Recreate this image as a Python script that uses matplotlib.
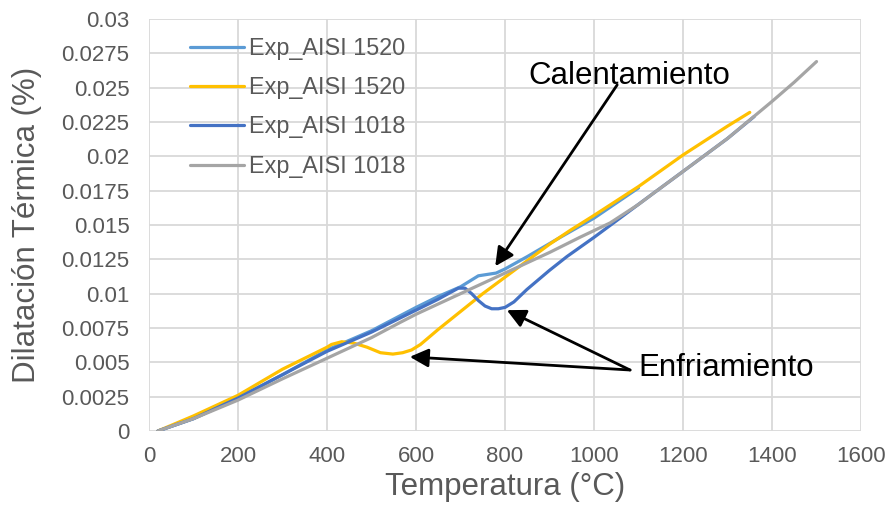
import numpy as np
import matplotlib.pyplot as plt
from matplotlib.ticker import MultipleLocator, FuncFormatter

plt.rcParams['font.family'] = ['Liberation Sans', 'DejaVu Sans']

# Exp_AISI 1520 - calentamiento (azul claro)
temp_1520_cal = [20, 100, 200, 300, 400, 500, 600, 650, 700, 720, 740, 760, 780, 800,
                 850, 924, 1000, 1100]
dil_1520_cal = [0, 0.0009, 0.0024, 0.0041, 0.0059, 0.0073, 0.0090, 0.0098, 0.0105, 0.0109,
                0.0113, 0.0114, 0.0115, 0.0118, 0.0127, 0.0141, 0.0155, 0.0177]

# Exp_AISI 1520 - enfriamiento (amarillo)
temp_1520_enf = [1350, 1300, 1200, 1100, 1000, 946, 900, 850, 800, 750, 700, 650, 610, 590,
                 570, 548, 520, 490, 460, 433, 410, 400, 300, 200, 100, 20]
dil_1520_enf = [0.0232, 0.0222, 0.0201, 0.0178, 0.0157, 0.0146, 0.0136, 0.0124, 0.0112, 0.0100,
                0.0087, 0.0074, 0.0063, 0.0059, 0.0057, 0.0056, 0.0057, 0.0061, 0.0064, 0.0065,
                0.0063, 0.0061, 0.0045, 0.0026, 0.0011, 0]

# Exp_AISI 1018 - enfriamiento (azul oscuro)
temp_1018_enf = [1360, 1300, 1200, 1133, 1050, 1000, 939, 900, 849, 820, 800, 785, 770, 755,
                 740, 725, 710, 695, 650, 600, 500, 400, 300, 200, 100, 20]
dil_1018_enf = [0.0229, 0.0213, 0.0189, 0.0173, 0.0153, 0.0141, 0.0127, 0.0117, 0.0103, 0.0094,
                0.0090, 0.0089, 0.0089, 0.0091, 0.0095, 0.0100, 0.0104, 0.0104, 0.0096, 0.0088,
                0.0072, 0.0058, 0.0041, 0.0024, 0.0009, 0]

# Exp_AISI 1018 - calentamiento (gris)
temp_1018_cal = [20, 100, 200, 300, 400, 500, 564, 600, 700, 800, 900, 968, 1036, 1100, 1133,
                 1200, 1300, 1400, 1450, 1500]
dil_1018_cal = [0, 0.0009, 0.00225, 0.0038, 0.0053, 0.0068, 0.0079, 0.0085, 0.0100, 0.0115,
                0.0130, 0.0141, 0.01515, 0.0165, 0.0173, 0.0189, 0.0213, 0.0240, 0.0254, 0.0269]

etiquetas = ['Exp_AISI 1520', 'Exp_AISI 1520', 'Exp_AISI 1018', 'Exp_AISI 1018']
colores = ['#5B9BD5', '#FFC000', '#4472C4', '#A5A5A5']

fig = plt.figure(figsize=(8.93, 5.08), dpi=100)
ax = fig.add_axes([0.1669, 0.1516, 0.7973, 0.811])

series = [(temp_1520_cal, dil_1520_cal), (temp_1520_enf, dil_1520_enf),
          (temp_1018_enf, dil_1018_enf), (temp_1018_cal, dil_1018_cal)]
for (tx, dy), lab, c in zip(series, etiquetas, colores):
    ax.plot(tx, dy, color=c, lw=2.3, label=lab, solid_joinstyle='round', solid_capstyle='round')

ax.set_xlim(0, 1600)
ax.set_ylim(0, 0.03)
ax.xaxis.set_major_locator(MultipleLocator(200))
ax.yaxis.set_major_locator(MultipleLocator(0.0025))
ax.yaxis.set_major_formatter(FuncFormatter(lambda v, p: f'{round(v, 4):g}'))
ax.grid(True, color='#d9d9d9', lw=1.3)
ax.set_axisbelow(True)
for s in ax.spines.values():
    s.set_visible(False)
ax.tick_params(length=0, labelsize=16, labelcolor='#595959')
ax.tick_params(axis='y', pad=14)
ax.tick_params(axis='x', pad=11)

ax.set_xlabel('Temperatura (°C)', fontsize=22.5, color='#595959')
ax.set_ylabel('Dilatación Térmica (%)', fontsize=22.5, color='#595959')
ax.xaxis.set_label_coords(0.5, -0.1)
ax.yaxis.set_label_coords(-0.15, 0.5)

ax.legend(loc='upper left', bbox_to_anchor=(0.0576, 0.957), frameon=False, fontsize=16.8,
          labelcolor='#595959', handlelength=2.3, handletextpad=0.22, labelspacing=0.7,
          borderpad=0, borderaxespad=0)

flecha = dict(arrowstyle='-|>', color='black', lw=2, mutation_scale=28, shrinkA=0, shrinkB=0)
ax.annotate('', xy=(778, 0.0120), xytext=(1052, 0.0252), arrowprops=flecha)
ax.text(852, 0.02585, 'Calentamiento', fontsize=22.5, color='black', ha='left', va='center')
ax.annotate('', xy=(586, 0.0054), xytext=(1081, 0.00444), arrowprops=flecha)
ax.annotate('', xy=(804, 0.0088), xytext=(1081, 0.00444), arrowprops=flecha)
ax.text(1099, 0.00459, 'Enfriamiento', fontsize=22.5, color='black', ha='left', va='center')

fig.savefig('out.png', dpi=100)
